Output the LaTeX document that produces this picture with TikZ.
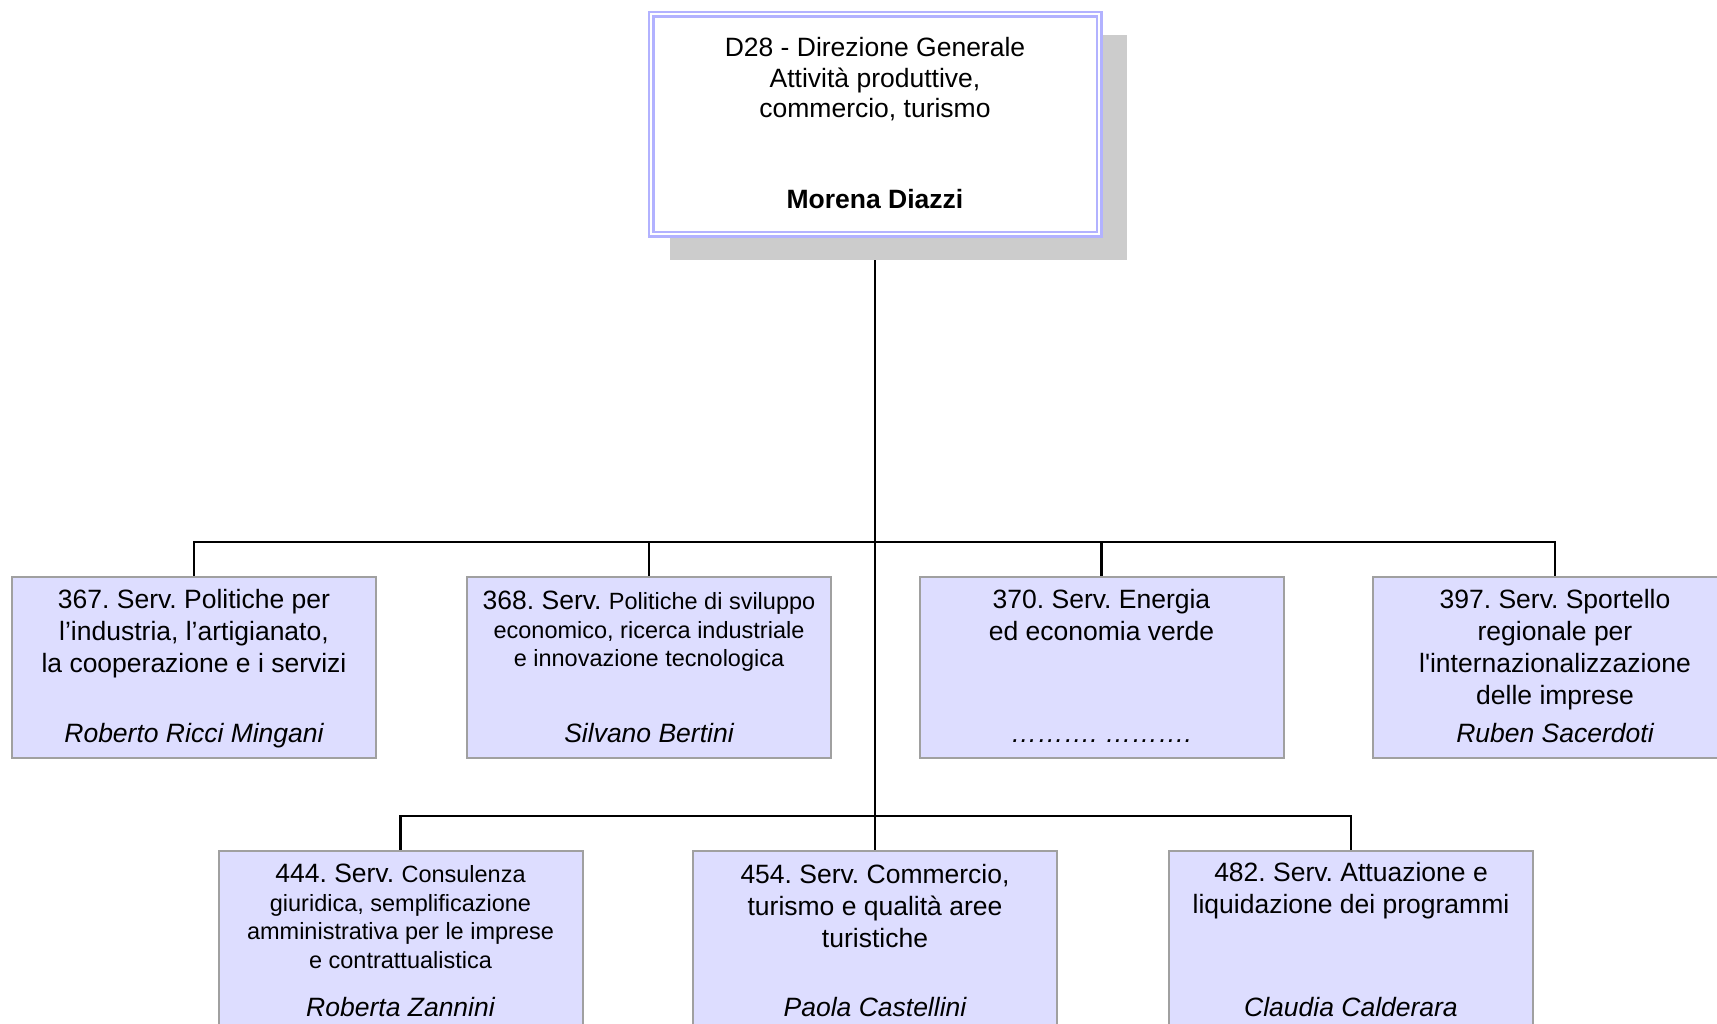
\documentclass[tikz,border=0pt]{standalone}
\usepackage{fontspec}
\setmainfont{Liberation Sans}[Ligatures=TeXOff]
\usetikzlibrary{shadows,backgrounds}

\definecolor{servfill}{RGB}{221,221,255}
\definecolor{servline}{RGB}{160,160,160}
\definecolor{dgline}{RGB}{178,178,255}

\newcommand{\mainsz}{\fontsize{26.5}{32}\selectfont}
\newcommand{\minorsz}{\fontsize{23.5}{28.5}\selectfont}
% text of one service box: title lines on top, name at the bottom
\newcommand{\servtext}[3][12pt]{\parbox[c][181pt][t]{364pt}{\centering\frenchspacing\mainsz
  \vspace*{#1}#2\par\vfill\mainsz\itshape #3\strut\par\vspace*{6pt}}}

\tikzset{
  servbox/.style={draw=servline, line width=2pt, fill=servfill, inner sep=0pt,
    outer sep=0pt, anchor=north},
  dgbox/.style={draw=dgline, double=white, double distance=2pt, line width=2.5pt,
    fill=white, inner sep=0pt, outer sep=0pt,
    drop shadow={shadow xshift=23pt, shadow yshift=-22.5pt, shadow scale=1.02,
      fill=gray!40, opacity=1}},
  conn/.style={draw=black, line width=2.5pt}
}

\begin{document}
\begin{tikzpicture}[x=1pt, y=-1pt]
  \useasboundingbox (0,0) rectangle (1717,1024);
  \clip (0,0) rectangle (1717,1024);

  % direzione generale
  \node[dgbox] (dg) at (875,124.5) {\parbox[c][220pt][t]{448pt}{\centering
    \fontsize{26.5}{30.5}\selectfont\vspace*{23pt}D28 - Direzione Generale\\
    Attività produttive,\\commercio, turismo\par\vfill
    \textbf{Morena Diazzi}\strut\par\vspace*{17pt}}};

  % first row of services
  \node[servbox] (s367) at (194,577)
    {\servtext{367. Serv. Politiche per\\l’industria, l’artigianato,\\la cooperazione e i servizi}{Roberto Ricci Mingani}};
  \node[servbox] (s368) at (649,577)
    {\servtext[14pt]{368. Serv. \minorsz Politiche di sviluppo\\economico, ricerca industriale\\e innovazione tecnologica}{Silvano Bertini}};
  \node[servbox] (s370) at (1101.5,577)
    {\servtext{370. Serv. Energia\\ed economia verde}{………. ……….}};
  \node[servbox] (s397) at (1555,577)
    {\servtext{397. Serv. Sportello\\regionale per\\l'internazionalizzazione\\delle imprese}{Ruben Sacerdoti}};

  % second row of services
  \node[servbox] (s444) at (400.5,851)
    {\servtext[13pt]{444. Serv. \minorsz Consulenza\\giuridica, semplificazione\\amministrativa per le imprese\\e contrattualistica}{Roberta Zannini}};
  \node[servbox] (s454) at (875,851)
    {\servtext[13pt]{454. Serv. Commercio,\\turismo e qualità aree\\turistiche}{Paola Castellini}};
  \node[servbox] (s482) at (1351,851)
    {\servtext[11.5pt]{482. Serv. Attuazione e\\liquidazione dei programmi}{Claudia Calderara}};

  \coordinate (bar1) at (875,542);
  \coordinate (bar2) at (875,816);

  \begin{scope}[on background layer]
    \draw[conn] (dg.south) -- (bar2);
    \draw[conn] (s367.north) |- (bar1) -| (s397.north);
    \draw[conn] (s368.north) -- (s368.north |- bar1);
    \draw[conn] (s370.north) -- (s370.north |- bar1);
    \draw[conn] (s444.north) |- (bar2) -| (s482.north);
    \draw[conn] (s454.north) -- (bar2);
  \end{scope}
\end{tikzpicture}
\end{document}
